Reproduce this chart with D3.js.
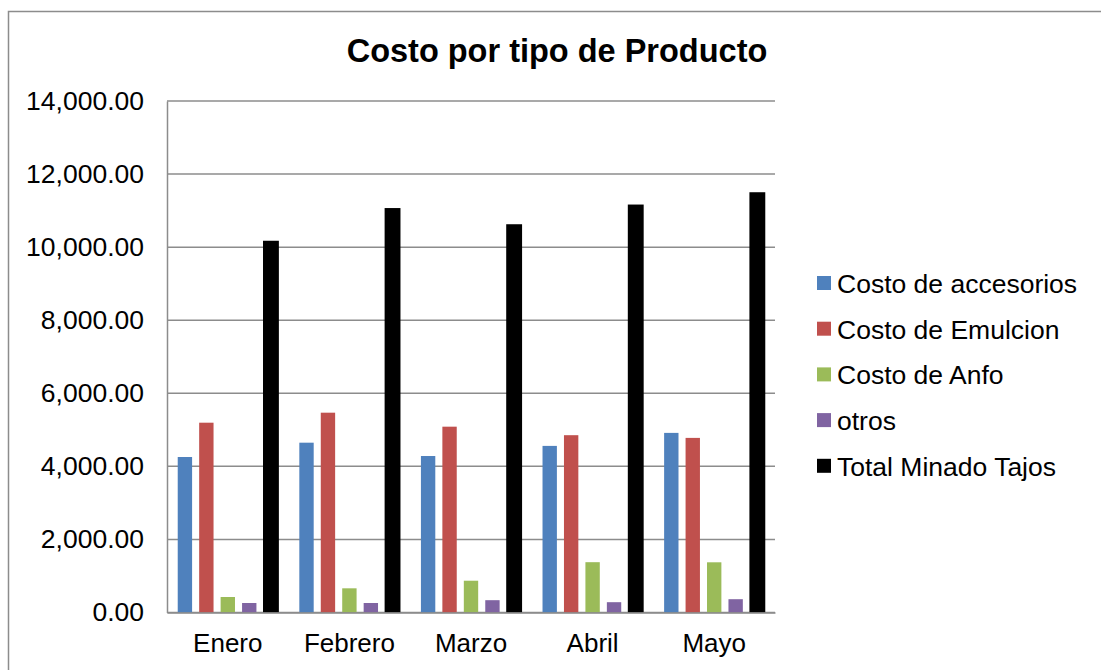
<!DOCTYPE html>
<html>
<head>
<meta charset="utf-8">
<script src="https://cdn.jsdelivr.net/npm/d3@7"></script>
<style>
  body { margin: 0; background: #fff; }
  text { font-family: "Liberation Sans", Arial, sans-serif; fill: #000; }
</style>
</head>
<body>
<div id="chart"></div>
<script>
const months = ["Enero", "Febrero", "Marzo", "Abril", "Mayo"];
const seriesNames = ["Costo de accesorios", "Costo de Emulcion", "Costo de Anfo", "otros", "Total Minado Tajos"];
const accesorios = [4256, 4648, 4283, 4560, 4916];
const emulcion = [5195, 5469, 5086, 4853, 4779];
const anfo = [424, 662, 870, 1377, 1374];
const otros = [260, 260, 337, 282, 364];
const totalMinado = [10175, 11070, 10627, 11166, 11503];
const yTicks = [0, 2000, 4000, 6000, 8000, 10000, 12000, 14000];
const colors = ["#4f81bd", "#c0504d", "#9bbb59", "#8064a2", "#000000"];

const values = [accesorios, emulcion, anfo, otros, totalMinado];
const width = 1101, height = 670;
const plot = { left: 167, right: 775, top: 101, bottom: 612.5 };

const svg = d3.select("#chart").append("svg")
    .attr("width", width)
    .attr("height", height);

// chart frame
svg.append("path")
    .attr("d", `M8.5,${height + 5} L8.5,11.5 L${width + 5},11.5`)
    .attr("fill", "none")
    .attr("stroke", "#8c8c8c")
    .attr("stroke-width", 1.5);

svg.append("text")
    .attr("x", 557)
    .attr("y", 62)
    .attr("text-anchor", "middle")
    .style("font-size", "32.5px")
    .style("font-weight", "bold")
    .text("Costo por tipo de Producto");

const y = d3.scaleLinear().domain([0, 14000]).range([plot.bottom, plot.top]);
const x0 = d3.scaleBand().domain(months).range([plot.left, plot.right]).paddingInner(0).paddingOuter(0);
const x1 = d3.scaleBand().domain(d3.range(seriesNames.length)).range([0, x0.bandwidth()])
    .paddingInner(0.33).paddingOuter(0.5);

// gridlines
svg.append("g")
    .selectAll("line")
    .data(yTicks)
    .join("line")
    .attr("x1", plot.left)
    .attr("x2", plot.right)
    .attr("y1", d => y(d))
    .attr("y2", d => y(d))
    .attr("stroke", "#8c8c8c")
    .attr("stroke-width", 1.5);

// y axis
const yAxis = svg.append("g")
    .attr("transform", `translate(${plot.left},0)`)
    .call(d3.axisLeft(y).tickValues(yTicks).tickFormat(d3.format(",.2f")).tickSize(0).tickPadding(23));
yAxis.select(".domain").attr("stroke", "#8c8c8c").attr("stroke-width", 1.5);
yAxis.selectAll("text").style("font-size", "26.5px").attr("fill", "#000");

// bars
const groups = svg.append("g")
    .selectAll("g")
    .data(months)
    .join("g")
    .attr("transform", d => `translate(${x0(d)},0)`);

groups.selectAll("rect")
    .data((m, i) => values.map((v, s) => ({ s, v: v[i] })))
    .join("rect")
    .attr("x", d => x1(d.s) + (d.s === 4 ? -0.5 : 0))
    .attr("width", d => x1.bandwidth() + (d.s === 4 ? 1.5 : 0))
    .attr("y", d => y(d.v))
    .attr("height", d => y(0) - y(d.v))
    .attr("fill", d => colors[d.s]);

// x axis
const xAxis = svg.append("g")
    .attr("transform", `translate(0,${plot.bottom})`)
    .call(d3.axisBottom(x0).tickSize(0).tickPadding(21));
xAxis.select(".domain").attr("stroke", "#8c8c8c").attr("stroke-width", 1.5);
xAxis.selectAll("text").style("font-size", "26px").attr("fill", "#000");

// legend
const legend = svg.append("g")
    .selectAll("g")
    .data(seriesNames)
    .join("g")
    .attr("transform", (d, i) => `translate(817,${293 + i * 45.7})`);

legend.append("rect")
    .attr("x", 0)
    .attr("y", -17)
    .attr("width", 14)
    .attr("height", 14)
    .attr("fill", (d, i) => colors[i]);

legend.append("text")
    .attr("x", 20)
    .attr("y", 0)
    .style("font-size", "26.5px")
    .text(d => d);
</script>
</body>
</html>
